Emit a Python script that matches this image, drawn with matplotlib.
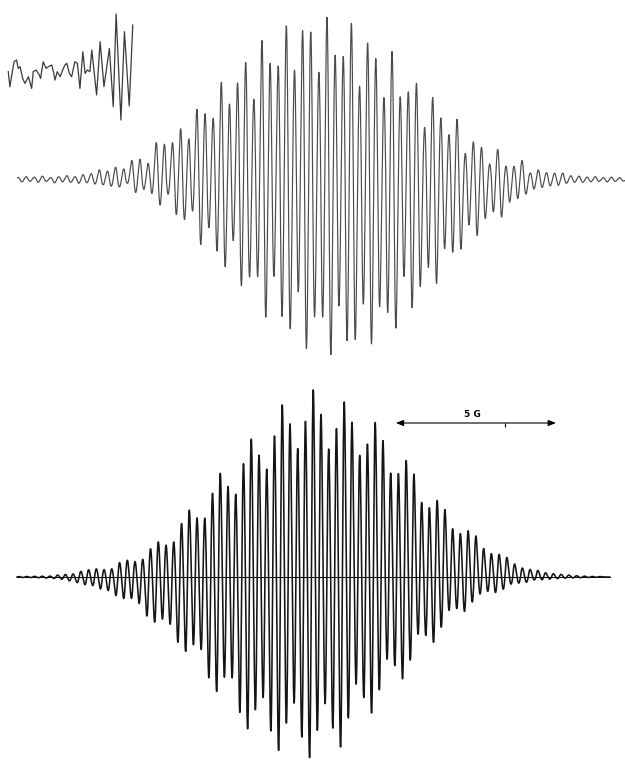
import numpy as np
import matplotlib
matplotlib.use('Agg')
import matplotlib.pyplot as plt

# Experimental first-derivative spectrum: one entry per hyperfine line,
# height of the upper lobe and depth of the lower lobe (relative units)
exp_spacing_G = 0.254
exp_center_line = 38
exp_up = [2, 3, 2.5, 3.5, 2, 3, 4, 3, 5, 6,
          10, 8.7, 12.7, 11, 19.3, 21, 16.7, 37.7, 36.7, 37.7,
          52.7, 42.7, 72, 69.3, 63.7, 101, 80, 100, 122.7, 85.3,
          144.3, 123.3, 118.7, 161, 117, 155, 156.3, 114.3, 169.7, 133.3,
          129.7, 164.7, 101.3, 143, 129.3, 88.3, 135, 90, 92.7, 102.7,
          57.3, 86.7, 66.7, 48.3, 64, 29.3, 40, 35, 17.3, 31.7,
          15, 14.3, 20, 7.3, 10, 7.3, 6.7, 6.7,
          4, 3.5, 2.5, 3, 2, 2.5, 2]
exp_down = [2.5, 2, 3, 2, 3.5, 2.5, 3, 4, 3.5, 5,
            5.7, 7.3, 8, 4.7, 14, 10.7, 15.7, 27.3, 16.5, 37.7,
            42.3, 35, 68.5, 51.3, 76.5, 91.3, 66, 112.3, 102, 104.3,
            144, 102.8, 145, 155.2, 120, 177, 143.3, 146, 182, 133,
            169.5, 165.3, 131.7, 171, 131.7, 139.7, 153.3, 101.7, 133.3, 110,
            92.2, 107.5, 71.7, 76, 71.2, 47.5, 57.8, 40, 34, 38.3,
            23.3, 20, 15, 10, 8.3, 6.7, 6, 4,
            3, 3, 2.5, 2, 2.5, 2, 1.5]

# Simulated spectrum, same convention
sim_spacing_G = 0.242
sim_center_line = 38
sim_up = [0.4, 0.5, 0.7, 0.8,
          1, 2, 2.7, 3.3, 6, 7.7, 8.7, 8, 9, 15.5,
          17.8, 16.7, 19.5, 30.5, 37.2, 34.2, 38.2, 57.2, 70.5, 62.8,
          63.8, 89.5, 109, 95.8, 89.5, 121, 145, 128.3, 115.7, 150,
          180, 160, 136.7, 165, 195.5, 169.5, 135.8, 157.3, 182.7, 160.7,
          128, 140, 160.7, 141, 108.7, 108.7, 121, 106, 77.7, 72.7,
          79.3, 69.3, 50, 45.3, 47.7, 42, 29.3, 24.3, 23.3, 20,
          13.3, 9.3, 7.7, 6.7, 4.3, 3.3, 2.7, 2, 1.3,
          0.9, 0.6, 0.4]
sim_down = [0.3, 0.5, 0.6, 0.8,
            1, 1.5, 2.3, 4, 5.7, 8, 9, 12.3, 14, 19,
            22.3, 22.3, 27.3, 40, 46.7, 44, 49, 67.3, 77.3, 71.3,
            75.7, 104, 119, 105.7, 105.7, 140, 158, 140, 127, 160,
            181, 155, 134, 167, 189, 163, 135, 158, 178, 150,
            115, 127, 143, 120.7, 89, 94, 107.3, 89, 62.3, 62.3,
            69, 54, 36.7, 34, 36.7, 27.3, 19, 15.7, 16.7, 13.3,
            8, 6.7, 5.7, 3.3, 3, 2.3, 1.7, 1.3, 1,
            0.8, 0.5, 0.3]

# Low-field wing recorded at higher gain (inset)
inset_field_G = [-9.96, -9.91, -9.78, -9.70, -9.65, -9.59, -9.51, -9.44, -9.33, -9.23,
                 -9.18, -9.09, -8.99, -8.95, -8.87, -8.78, -8.71, -8.60, -8.55, -8.50,
                 -8.43, -8.34, -8.26, -8.19, -8.13, -8.05, -7.98, -7.88, -7.80, -7.72,
                 -7.63, -7.56, -7.49, -7.41, -7.35, -7.20, -7.09, -6.97, -6.80, -6.68,
                 -6.59, -6.44, -6.33, -6.18, -6.07]
inset_signal = [0, -15, 10, 11.7, 3.3, 5, -6.7, -11.7, -5, -16.7,
                0, 1.7, -3.3, -6.7, 10, 3.3, 5, 6.7, 0, -8.3,
                0, -5, 1.7, 6.7, 8.3, -1.7, -5, 10, 8.3, -16.7,
                20, -1.7, 1.7, 0, 21.7, -23.3, 30, -15, 23.3, -35,
                57.7, -48.3, 40, -34.3, 46.7]

scale_bar_G = 5


def derivative_trace(field, centers, up, down, width, lead):
    """Sum of first-derivative Gaussian lines, lobes scaled separately."""
    y = np.zeros_like(field)
    for c, a_up, a_dn in zip(centers, up, down):
        u = (field - c) / width
        g = lead * u * np.exp(0.5 - 0.5 * u ** 2)
        y += np.where(g > 0, g * a_up, g * a_dn)
    return y


W, H = 625, 768
fig = plt.figure(figsize=(W / 100, H / 100), dpi=100)
fig.patch.set_facecolor('white')

# --- experimental trace ---
ax_exp = fig.add_axes([0, (H - 365) / H, 1, 365 / H])
exp_centers = (np.arange(len(exp_up)) - exp_center_line) * exp_spacing_G
exp_field = np.linspace(exp_centers[0] - 0.3 * exp_spacing_G,
                        exp_centers[-1] + 0.6 * exp_spacing_G, 12000)
exp_y = derivative_trace(exp_field, exp_centers, exp_up, exp_down,
                         exp_spacing_G / 4, lead=-1)
ax_exp.plot(exp_field, exp_y, color='#4a4a4a', lw=0.85)
ax_exp.set_xlim(-328.9 / 32, (W - 328.9) / 32)
ax_exp.set_ylim(-185.5, 179.5)
ax_exp.axis('off')

# --- inset ---
ax_in = fig.add_axes([0, (H - 125) / H, 140 / W, 125 / H])
ax_in.plot(inset_field_G, inset_signal, color='#3a3a3a', lw=0.9)
ax_in.set_xlim(-327 / 32, (140 - 327) / 32)
ax_in.set_ylim(-53.3, 71.7)
ax_in.axis('off')

# --- simulated trace ---
ax_sim = fig.add_axes([0, 0, 1, 388 / H])
sim_centers = (np.arange(len(sim_up)) - sim_center_line) * sim_spacing_G
sim_field = np.linspace(sim_centers[0], sim_centers[-1] + 1.5 * sim_spacing_G, 12000)
sim_y = derivative_trace(sim_field, sim_centers, sim_up, sim_down,
                         sim_spacing_G / 4, lead=1)
ax_sim.plot([sim_field[0], sim_field[-1]], [0, 0], color='black', lw=0.7)
ax_sim.plot(sim_field, sim_y, color='#151515', lw=1.15)
ax_sim.set_xlim(-311.4 / 32, (W - 311.4) / 32)
ax_sim.set_ylim(-191, 197)
ax_sim.axis('off')

# 5 G scale bar
bar_x0, bar_y = 2.64, 154
ax_sim.annotate('', xy=(bar_x0, bar_y), xytext=(bar_x0 + scale_bar_G, bar_y),
                arrowprops=dict(arrowstyle='<|-|>,head_length=0.45,head_width=0.18',
                                color='black', lw=0.8, shrinkA=0, shrinkB=0))
ax_sim.plot([bar_x0 + 3.4], [bar_y - 1.5], marker='|', ms=2.5, color='black', mew=0.8)
ax_sim.text(bar_x0 + scale_bar_G / 2 - 0.1, bar_y + 4, f'{scale_bar_G} G',
            ha='center', va='bottom', fontsize=6.5, fontweight='bold')

fig.savefig('out.png', dpi=100, facecolor='white')
